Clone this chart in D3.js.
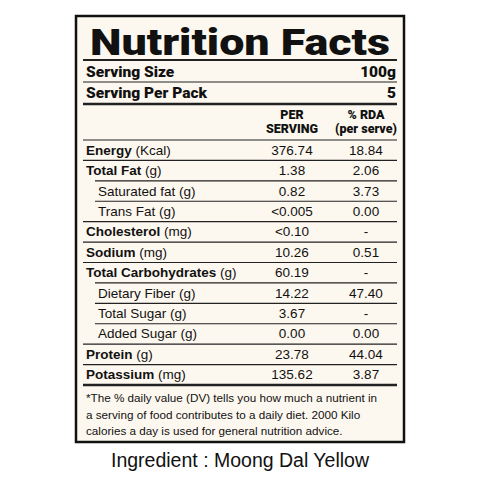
<!DOCTYPE html>
<html><head><meta charset="utf-8">
<script src="https://cdn.jsdelivr.net/npm/d3@7"></script>
<style>body{margin:0;background:#fff}</style></head>
<body><svg id="c" width="480" height="480"></svg>
<script>
const nutrients = ["Energy","Total Fat","Saturated fat","Trans Fat","Cholesterol","Sodium","Total Carbohydrates","Dietary Fiber","Total Sugar","Added Sugar","Protein","Potassium"];
const units = ["(Kcal)","(g)","(g)","(g)","(mg)","(mg)","(g)","(g)","(g)","(g)","(g)","(mg)"];
const subRow = [false,false,true,true,false,false,false,true,true,true,false,false];
const perServing = ["376.74","1.38","0.82","<0.005","<0.10","10.26","60.19","14.22","3.67","0.00","23.78","135.62"];
const rda = ["18.84","2.06","3.73","0.00","-","0.51","-","47.40","-","0.00","44.04","3.87"];
const footnote = ["*The % daily value (DV) tells you how much a nutrient in","a serving of food contributes to a daily diet. 2000 Kilo","calories a day is used for general nutrition advice."];

const svg = d3.select("#c");
const F = "'Liberation Sans', Arial, sans-serif";
svg.append("rect").attr("x",76).attr("y",16).attr("width",328).attr("height",426)
  .attr("fill","#fdf8ef").attr("stroke","#111").attr("stroke-width",2.5);
const L=83, R=397;
svg.append("text").attr("x",240).attr("y",55).attr("text-anchor","middle")
  .attr("font-family","Roboto, sans-serif").attr("font-weight",900).attr("font-size",36)
  .attr("textLength",300).attr("lengthAdjust","spacingAndGlyphs").attr("fill","#111").text("Nutrition Facts");
function line(y,w,x0){svg.append("line").attr("x1",x0||L).attr("x2",R).attr("y1",y).attr("y2",y).attr("stroke","#222").attr("stroke-width",w);}
line(60,2);
const hb = {"font-family":"Roboto, sans-serif","font-weight":900,"font-size":15.5};
function t(x,y,s,anchor,attrs){const e=svg.append("text").attr("x",x).attr("y",y).attr("text-anchor",anchor||"start").attr("fill","#111").text(s);Object.entries(attrs).forEach(([k,v])=>e.attr(k,v));return e;}
t(86,77,"Serving Size","start",hb); t(396,77,"100g","end",hb);
line(82,1.2);
t(86,98,"Serving Per Pack","start",hb); t(396,98,"5","end",hb);
line(104,2.5);
const hs = {"font-family":"Roboto, sans-serif","font-weight":900,"font-size":12.5};
const xPer=292, xRda=366;
t(xPer,119,"PER","middle",hs); t(xPer,133,"SERVING","middle",hs);
t(xRda,119,"% RDA","middle",hs); t(xRda,133,"(per serve)","middle",hs);
line(140,1.2);
const y = d3.scaleBand().domain(d3.range(nutrients.length)).range([140,385]);
nutrients.forEach((n,i)=>{
  const cy = y(i)+y.bandwidth()/2+4.5;
  const x0 = subRow[i]?98:86;
  const tx = svg.append("text").attr("x",x0).attr("y",cy).attr("font-family",F).attr("font-size",13.5).attr("fill","#111");
  tx.append("tspan").attr("font-weight",subRow[i]?"normal":"bold").text(n);
  tx.append("tspan").text(" "+units[i]);
  t(xPer,cy,perServing[i],"middle",{"font-family":F,"font-size":13.5});
  t(xRda,cy,rda[i],"middle",{"font-family":F,"font-size":13.5});
  if(i<nutrients.length-1){
    line(y(i)+y.bandwidth(),1.2,subRow[i+1]?95:L);
  }
});
line(385,2.5);
footnote.forEach((s,i)=>t(86,402+i*16.5,s,"start",{"font-family":F,"font-size":11.7}));
t(240,467,"Ingredient : Moong Dal Yellow","middle",{"font-family":F,"font-size":19.5});
</script></body></html>
